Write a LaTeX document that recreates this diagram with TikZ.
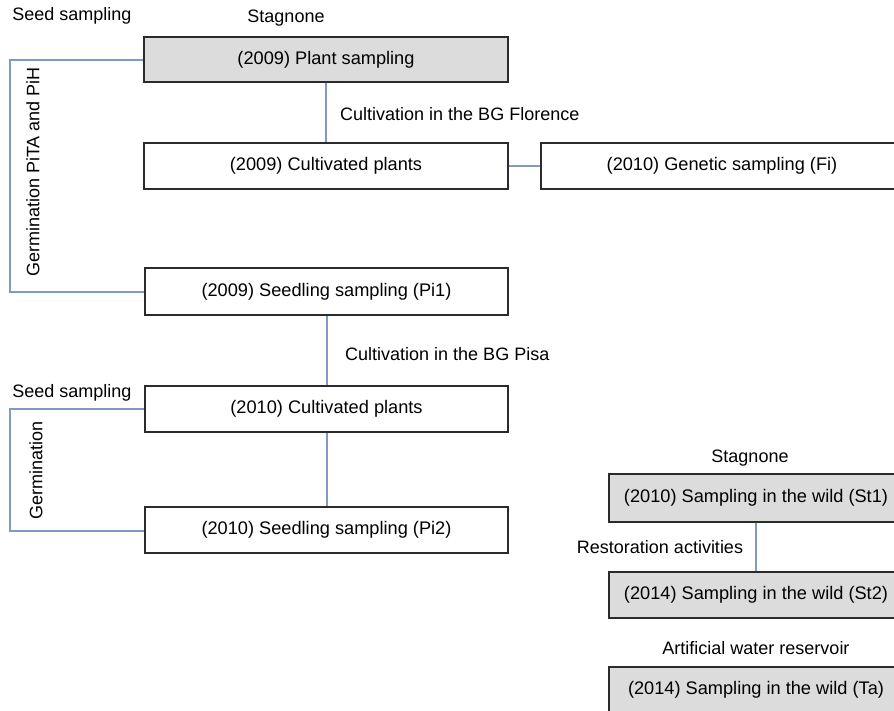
\documentclass[tikz,border=0pt]{standalone}
\usepackage{fontspec}
\setmainfont{Liberation Sans}
\definecolor{conn}{HTML}{7F9BC2}
\definecolor{boxline}{HTML}{2B2B2B}
\definecolor{boxfill}{HTML}{DCDCDC}
\begin{document}
\begin{tikzpicture}[x=1pt,y=-1pt,
  every node/.style={font=\fontsize{18}{21}\selectfont, inner sep=0pt},
  stepbox/.style={draw=boxline, line width=1.8pt, fill=white, minimum height=46pt, anchor=center, font=\fontsize{18.2}{22}\selectfont},
  graybox/.style={stepbox, fill=boxfill},
  conn/.style={draw=conn, line width=2pt},
  lbl/.style={text=black}]
\useasboundingbox (0,0) rectangle (894,711);
\clip (0,0) rectangle (894,711);
\fill[white] (0,0) rectangle (894,711);

% left column
\node[graybox, minimum width=364pt, minimum height=45pt] (A) at (326,59.5) {(2009) Plant sampling};
\node[stepbox, minimum width=364pt] (B) at (326,166) {(2009) Cultivated plants};
\node[stepbox, minimum width=362pt] (C) at (722,166) {(2010) Genetic sampling (Fi)};
\node[stepbox, minimum width=363pt, minimum height=47pt] (D) at (326.5,291.5) {(2009) Seedling sampling (Pi1)};
\node[stepbox, minimum width=363pt] (E) at (326.5,409) {(2010) Cultivated plants};
\node[stepbox, minimum width=363pt] (F) at (326.5,530) {(2010) Seedling sampling (Pi2)};

% right column
\node[graybox, minimum width=294pt, minimum height=48pt] (S1) at (756,498) {(2010) Sampling in the wild (St1)};
\node[graybox, minimum width=294pt] (S2) at (756,595) {(2014) Sampling in the wild (St2)};
\node[graybox, minimum width=294pt] (T) at (756,690) {(2014) Sampling in the wild (Ta)};

% labels
\node[lbl] (lstag1) at (286,18) {Stagnone};
\node[lbl] (lseed1) at (72,16) {Seed sampling};
\node[lbl, anchor=west] (lflor) at (340,114) {Cultivation in the BG Florence};
\node[lbl, rotate=90] (lgerm1) at (33,172) {Germination PiTA and PiH};
\node[lbl, anchor=west] (lpisa) at (345,354) {Cultivation in the BG Pisa};
\node[lbl] (lseed2) at (72,393) {Seed sampling};
\node[lbl, rotate=90] (lgerm2) at (36,470) {Germination};
\node[lbl] (lstag2) at (750,458) {Stagnone};
\node[lbl] (lrest) at (660,547) {Restoration activities};
\node[lbl] (lart) at (756,648) {Artificial water reservoir};

% brackets
\coordinate (k1) at (10,60);
\coordinate (k2) at (10,292);
\coordinate (k3) at (10,409);
\coordinate (k4) at (10,531);
\draw[conn] (A.west |- k1) -- (k1) -- (k2) -- (D.west |- k2);
\draw[conn] (E.west |- k3) -- (k3) -- (k4) -- (F.west |- k4);

% connectors
\draw[conn] (A.south) -- (B.north);
\draw[conn] (B.east) -- (C.west);
\draw[conn] (D.south) -- (E.north);
\draw[conn] (E.south) -- (F.north);
\draw[conn] (S1.south) -- (S2.north);
\end{tikzpicture}
\end{document}
